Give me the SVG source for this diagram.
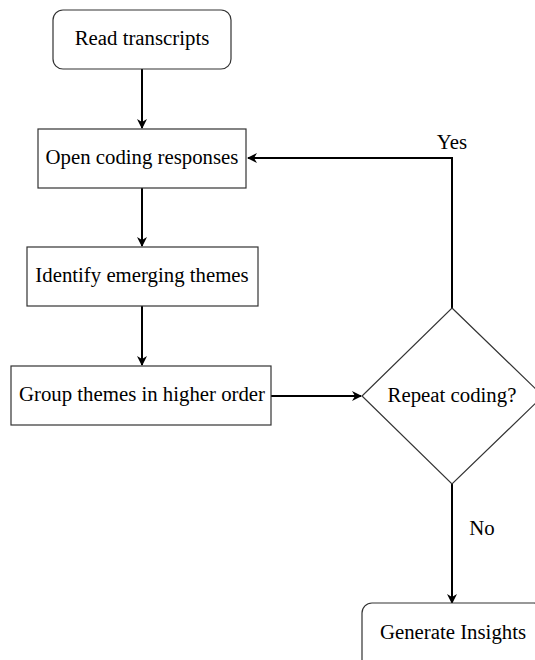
<svg xmlns="http://www.w3.org/2000/svg" width="535" height="660" viewBox="0 0 535 660">
<style>
.box{fill:#fff;stroke:#333;stroke-width:1.2}
.t{font-family:"Liberation Serif","Times New Roman",serif;font-size:20.8px;fill:#000;text-anchor:middle;dominant-baseline:central}
.c{fill:none;stroke:#000;stroke-width:2}
</style>
<defs>
<marker id="ah" viewBox="0 0 10 10" refX="9" refY="5" markerWidth="10" markerHeight="10" markerUnits="userSpaceOnUse" orient="auto">
<path d="M0,0 L10,5 L0,10 L3,5 Z" fill="#000"/>
</marker>
</defs>
<g id="connectors">
<line class="c" x1="142" y1="69" x2="142" y2="128" marker-end="url(#ah)"/>
<line class="c" x1="142" y1="188" x2="142" y2="246" marker-end="url(#ah)"/>
<line class="c" x1="142" y1="306" x2="142" y2="365" marker-end="url(#ah)"/>
<line class="c" x1="271" y1="396" x2="361" y2="396" marker-end="url(#ah)"/>
<polyline class="c" points="452,308 452,158 248,158" marker-end="url(#ah)"/>
<line class="c" x1="452" y1="484" x2="452" y2="603" marker-end="url(#ah)"/>
<text class="t" x="452" y="141">Yes</text>
<text class="t" x="482" y="527">No</text>
</g>
<g id="read">
<rect class="box" x="53" y="10" width="178" height="59" rx="10"/>
<text class="t" x="142" y="37.5">Read transcripts</text>
</g>
<g id="open">
<rect class="box" x="38" y="129" width="208" height="59"/>
<text class="t" x="142" y="156">Open coding responses</text>
</g>
<g id="identify">
<rect class="box" x="27" y="247" width="231" height="59"/>
<text class="t" x="142" y="274.5">Identify emerging themes</text>
</g>
<g id="group">
<rect class="box" x="11" y="366" width="260" height="59"/>
<text class="t" x="142" y="393.5">Group themes in higher order</text>
</g>
<g id="decision">
<polygon class="box" points="452,308 543,396 452,484 362,396"/>
<text class="t" x="452" y="394">Repeat coding?</text>
</g>
<g id="insights">
<rect class="box" x="362" y="603" width="182" height="70" rx="10"/>
<text class="t" x="453" y="631">Generate Insights</text>
</g>
</svg>
